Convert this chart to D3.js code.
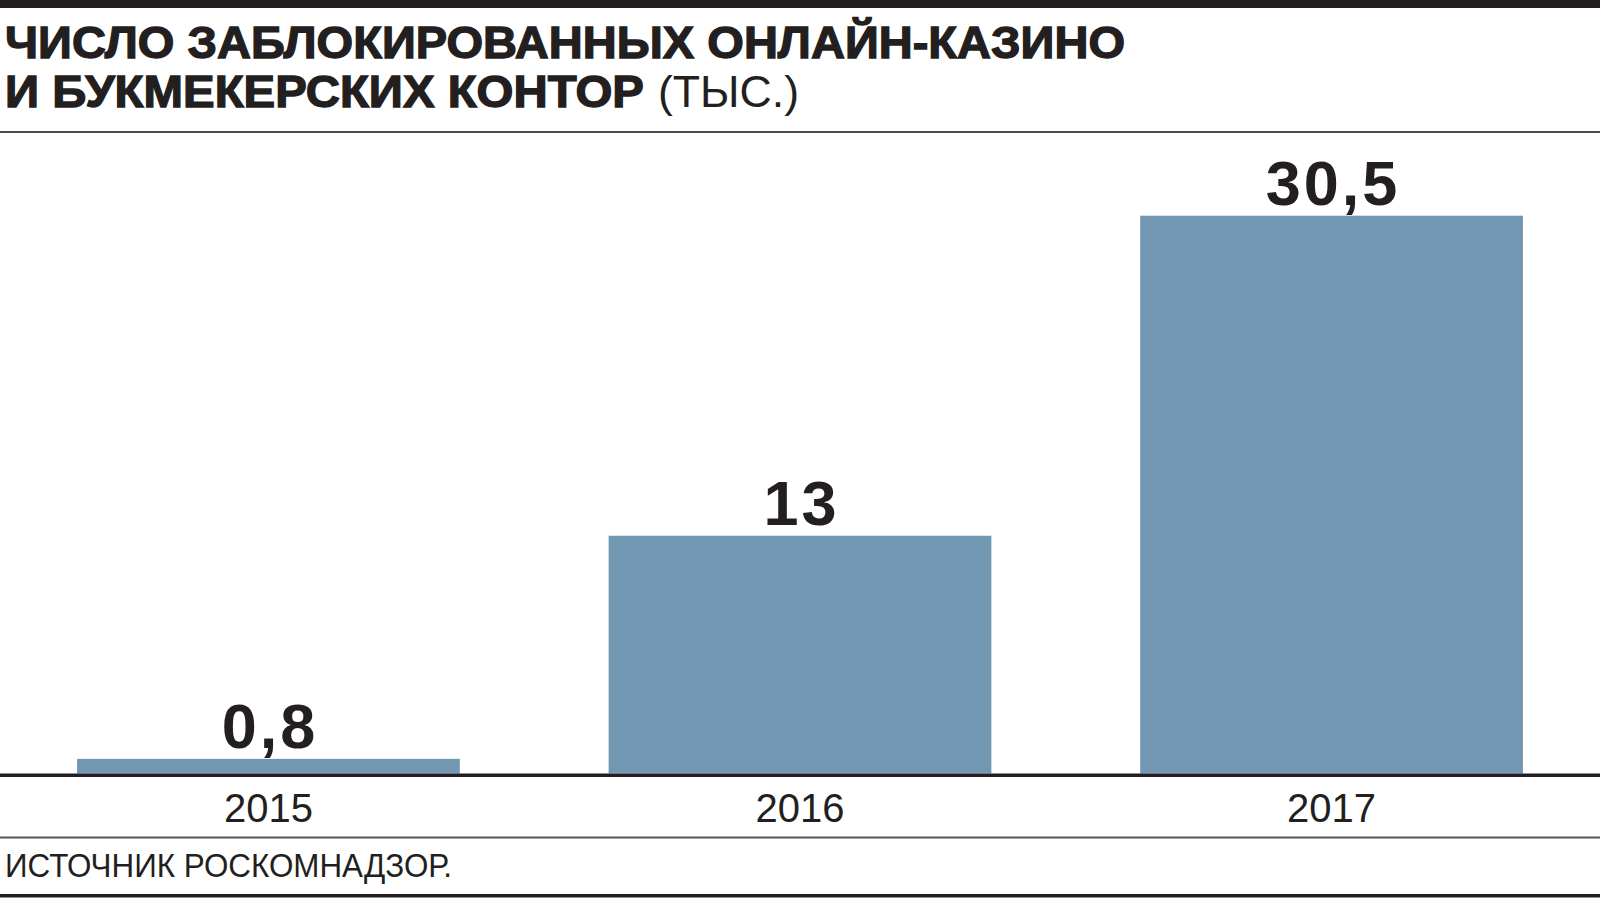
<!DOCTYPE html>
<html>
<head>
<meta charset="utf-8">
<script src="https://cdn.jsdelivr.net/npm/d3@7"></script>
<style>
  html, body { margin: 0; padding: 0; background: #fff; }
  svg { display: block; }
</style>
</head>
<body>
<svg id="chart" width="1600" height="900"></svg>
<script>
// ---- data ----
const categories = ["2015", "2016", "2017"];
const values = [0.8, 13, 30.5];
const titleLine1 = "ЧИСЛО ЗАБЛОКИРОВАННЫХ ОНЛАЙН-КАЗИНО";
const titleLine2Bold = "И БУКМЕКЕРСКИХ КОНТОР";
const titleLine2Unit = "(ТЫС.)";
const sourceText = "ИСТОЧНИК РОСКОМНАДЗОР.";

// ---- setup ----
const W = 1600, H = 900;
const ink = "#231f20";
const barColor = "#7297b2";
const svg = d3.select("#chart");

const ruLocale = d3.formatLocale({ decimal: ",", thousands: " ", grouping: [3], currency: ["", ""] });
const fmt = ruLocale.format("~f");

const x = d3.scaleBand().domain(categories).range([0, W]).paddingInner(0.28).paddingOuter(0.145);
const y = d3.scaleLinear().domain([0, 30.5]).range([773.5, 215.7]);

// top heavy rule
svg.append("rect").attr("x", 0).attr("y", 0).attr("width", W).attr("height", 8).attr("fill", ink);

// title
const font = "'Liberation Sans', Arial, Helvetica, sans-serif";
svg.append("text")
  .attr("x", 5).attr("y", 58)
  .attr("font-family", font).attr("font-weight", 700).attr("font-size", 44)
  .attr("fill", ink).attr("stroke", ink).attr("stroke-width", 1.3)
  .attr("textLength", 1120).attr("lengthAdjust", "spacingAndGlyphs")
  .text(titleLine1);
svg.append("text")
  .attr("x", 5).attr("y", 107)
  .attr("font-family", font).attr("font-weight", 700).attr("font-size", 44)
  .attr("fill", ink).attr("stroke", ink).attr("stroke-width", 1.3)
  .attr("textLength", 639).attr("lengthAdjust", "spacingAndGlyphs")
  .text(titleLine2Bold);
svg.append("text")
  .attr("x", 658).attr("y", 107)
  .attr("font-family", font).attr("font-weight", 400).attr("font-size", 44)
  .attr("fill", ink)
  .attr("textLength", 141).attr("lengthAdjust", "spacingAndGlyphs")
  .text(titleLine2Unit);

// rule under title
svg.append("line").attr("x1", 0).attr("x2", W).attr("y1", 132).attr("y2", 132)
  .attr("stroke", "#4a4a4a").attr("stroke-width", 2);

// bars
svg.append("g").selectAll("rect")
  .data(categories.map((c, i) => ({ c, v: values[i] })))
  .join("rect")
  .attr("x", d => x(d.c))
  .attr("width", x.bandwidth())
  .attr("y", d => y(d.v))
  .attr("height", d => y(0) - y(d.v))
  .attr("fill", barColor);

// value labels
svg.append("g").selectAll("text")
  .data(categories.map((c, i) => ({ c, v: values[i] })))
  .join("text")
  .attr("x", d => x(d.c) + x.bandwidth() / 2 + 1.5)
  .attr("y", d => y(d.v) - 11)
  .attr("text-anchor", "middle")
  .attr("letter-spacing", 3)
  .attr("font-family", font).attr("font-weight", 700).attr("font-size", 63)
  .attr("fill", ink)
  .text(d => fmt(d.v));

// baseline axis line
svg.append("line").attr("x1", 0).attr("x2", W).attr("y1", 775.3).attr("y2", 775.3)
  .attr("stroke", ink).attr("stroke-width", 3.6);

// x axis labels
const xAxis = svg.append("g").attr("transform", "translate(0,775.5)")
  .call(d3.axisBottom(x).tickSize(0).tickPadding(0));
xAxis.select(".domain").remove();
xAxis.selectAll("text")
  .attr("y", 46.5).attr("dy", "0")
  .attr("font-family", font).attr("font-weight", 400).attr("font-size", 40)
  .attr("fill", ink);

// thin rule above source
svg.append("line").attr("x1", 0).attr("x2", W).attr("y1", 837.5).attr("y2", 837.5)
  .attr("stroke", "#555").attr("stroke-width", 2);

// source
svg.append("text")
  .attr("x", 5).attr("y", 877)
  .attr("font-family", font).attr("font-weight", 400).attr("font-size", 34)
  .attr("fill", ink)
  .attr("textLength", 447).attr("lengthAdjust", "spacingAndGlyphs")
  .text(sourceText);

// bottom rule
svg.append("rect").attr("x", 0).attr("y", 894).attr("width", W).attr("height", 3.5).attr("fill", ink);
</script>
</body>
</html>
